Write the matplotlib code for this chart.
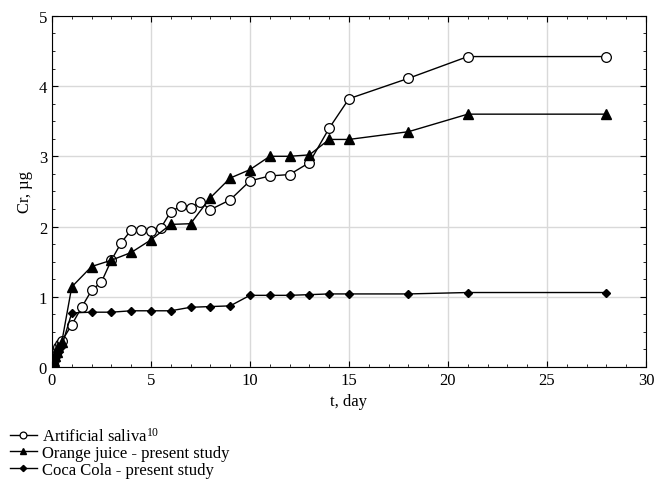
import matplotlib
matplotlib.use("Agg")
import matplotlib.pyplot as plt
from matplotlib.ticker import MultipleLocator

plt.rcParams["font.family"] = "Liberation Serif"
plt.rcParams["mathtext.default"] = "regular"

saliva_t = [0, 0.08, 0.17, 0.25, 0.33, 0.42, 0.5, 1, 1.5, 2, 2.5, 3, 3.5, 4, 4.5, 5, 5.5,
            6, 6.5, 7, 7.5, 8, 9, 10, 11, 12, 13, 14, 15, 18, 21, 28]
saliva_cr = [0.02, 0.1, 0.17, 0.23, 0.28, 0.33, 0.37, 0.6, 0.85, 1.09, 1.21, 1.52, 1.77, 1.95, 1.95, 1.93, 1.98,
             2.21, 2.29, 2.26, 2.35, 2.24, 2.38, 2.65, 2.72, 2.74, 2.91, 3.4, 3.82, 4.11, 4.42, 4.42]

orange_t = [0, 0.08, 0.17, 0.25, 0.33, 0.5, 1, 2, 3, 4, 5, 6, 7, 8, 9, 10, 11, 12, 13, 14, 15, 18, 21, 28]
orange_cr = [0.02, 0.08, 0.15, 0.22, 0.28, 0.36, 1.14, 1.43, 1.52, 1.63, 1.81, 2.03, 2.04, 2.41, 2.69, 2.81,
             3.0, 3.0, 3.02, 3.24, 3.24, 3.35, 3.6, 3.6]

coke_t = [0, 0.08, 0.17, 0.25, 0.33, 0.5, 1, 2, 3, 4, 5, 6, 7, 8, 9, 10, 11, 12, 13, 14, 15, 18, 21, 28]
coke_cr = [0.01, 0.06, 0.11, 0.16, 0.21, 0.3, 0.77, 0.78, 0.78, 0.8, 0.8, 0.8, 0.85, 0.86, 0.87, 1.02,
           1.02, 1.02, 1.03, 1.04, 1.04, 1.04, 1.06, 1.06]

fig = plt.figure(figsize=(6.66, 4.81), dpi=100)
ax = fig.add_axes([0.078, 0.235, 0.892, 0.73])

ax.plot(saliva_t, saliva_cr, "k-", lw=1, marker="o", mfc="white", mec="black", ms=7, mew=0.9,
        label="Artificial saliva$^{10}$")
ax.plot(orange_t, orange_cr, "k-", lw=1, marker="^", mfc="black", ms=6.5,
        label="Orange juice - present study")
ax.plot(coke_t, coke_cr, "k-", lw=1, marker="D", mfc="black", ms=4.5,
        label="Coca Cola - present study")

ax.set_xlim(0, 30)
ax.set_ylim(0, 5)
ax.xaxis.set_major_locator(MultipleLocator(5))
ax.xaxis.set_minor_locator(MultipleLocator(1))
ax.yaxis.set_major_locator(MultipleLocator(1))
ax.yaxis.set_minor_locator(MultipleLocator(0.25))
ax.tick_params(which="both", direction="in", top=True, right=True, labelsize=12)
ax.tick_params(which="major", length=4)
ax.tick_params(which="minor", length=2.5)
ax.grid(True, color="#d9d9d9", lw=1)
ax.set_axisbelow(True)
ax.set_xlabel("t, day", fontsize=12)
ax.set_ylabel("Cr, µg", fontsize=12)

fig.legend(loc="upper left", bbox_to_anchor=(0.005, 0.125), frameon=False, fontsize=12,
           handlelength=1.6, handletextpad=0.3, labelspacing=0.05, borderaxespad=0,
           markerscale=0.7)

fig.savefig("out.png", dpi=100)
